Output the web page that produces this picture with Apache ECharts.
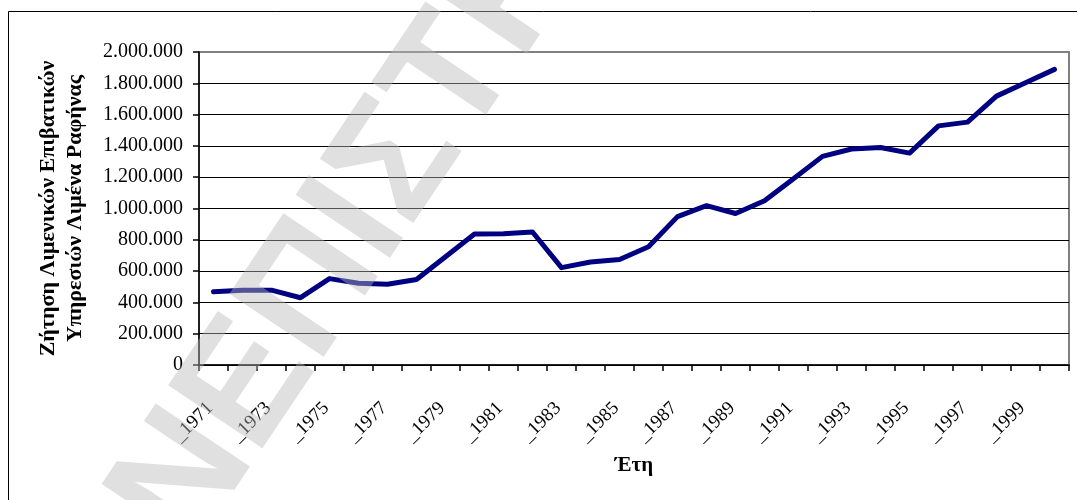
<!DOCTYPE html>
<html>
<head>
<meta charset="utf-8">
<script src="https://cdn.jsdelivr.net/npm/echarts@6/dist/echarts.min.js"></script>
<style>
  html, body { margin: 0; padding: 0; background: #ffffff; }
  #chart { width: 1077px; height: 500px; }
</style>
</head>
<body>
<div id="chart"></div>
<script>
// Years on the horizontal axis
const years = ['1971','1972','1973','1974','1975','1976','1977','1978','1979','1980',
               '1981','1982','1983','1984','1985','1986','1987','1988','1989','1990',
               '1991','1992','1993','1994','1995','1996','1997','1998','1999','2000'];

// Passenger port service demand, Rafina port
const demand = [468000, 478000, 478000, 430000, 552000, 522000, 516000, 546000, 692000, 837000,
                839000, 850000, 622000, 658000, 674000, 756000, 948000, 1018000, 968000, 1050000,
                1190000, 1333000, 1380000, 1390000, 1354000, 1528000, 1552000, 1718000, 1804000, 1889000];

// Value axis range
const yMin = 0;
const yMax = 2000000;
const yStep = 200000;

const yTitle = 'Ζήτηση Λιμενικών Επιβατικών\nΥπηρεσιών Λιμένα Ραφήνας';
const xTitle = 'Έτη';
const stamp = 'ΝΕΠΙΣΤΗΜΙΟ';

const serif = '"Liberation Serif", "Times New Roman", serif';

function dotted(v) {
  return String(v).replace(/\B(?=(\d{3})+(?!\d))/g, '.');
}

// gridlines black, the top one belongs to the grey plot frame
const splitColors = [];
for (let v = yMin; v <= yMax; v += yStep) splitColors.push(v === yMax ? '#808080' : '#000000');

const chart = echarts.init(document.getElementById('chart'), null, { renderer: 'canvas' });

chart.setOption({
  backgroundColor: '#ffffff',
  animation: false,
  grid: {
    left: 199, right: 8, top: 52, bottom: 135,
    show: true,
    borderColor: '#808080',
    borderWidth: 2,
    backgroundColor: 'transparent'
  },
  xAxis: {
    type: 'category',
    data: years,
    boundaryGap: true,
    name: xTitle,
    nameLocation: 'middle',
    nameGap: 90,
    nameTextStyle: { fontFamily: serif, fontSize: 21, fontWeight: 'bold', color: '#000' },
    axisLine: { lineStyle: { color: '#000', width: 1.5 } },
    axisTick: { show: true, interval: 0, length: 6, lineStyle: { color: '#000', width: 1.5 } },
    axisLabel: {
      interval: 1,
      rotate: 45,
      margin: 37,
      fontFamily: serif,
      fontSize: 19,
      color: '#000',
      // a no-break space keeps the year just left of its category centre
      formatter: y => '_' + y + '\u00a0'
    },
    splitLine: { show: false }
  },
  yAxis: {
    type: 'value',
    min: yMin,
    max: yMax,
    interval: yStep,
    name: yTitle,
    nameLocation: 'middle',
    nameRotate: 90,
    nameGap: 110,
    nameTextStyle: { fontFamily: serif, fontSize: 22, fontWeight: 'bold', color: '#000', lineHeight: 27, align: 'center' },
    axisLine: { show: true, lineStyle: { color: '#000', width: 1.5 } },
    axisTick: { show: true, length: 6, lineStyle: { color: '#000', width: 1.5 } },
    axisLabel: {
      margin: 16,
      fontFamily: serif,
      fontSize: 20,
      color: '#000',
      formatter: v => dotted(v)
    },
    splitLine: { show: true, lineStyle: { color: splitColors, width: 1 } }
  },
  series: [{
    type: 'line',
    data: demand,
    showSymbol: false,
    symbol: 'none',
    smooth: false,
    lineStyle: { color: '#000080', width: 5, join: 'round', cap: 'round' },
    z: 3
  }],
  graphic: [
    {
      // outer chart frame
      type: 'rect',
      silent: true,
      shape: { x: 8.5, y: 11.5, width: 1200, height: 700 },
      style: { fill: 'none', stroke: '#000', lineWidth: 1 },
      z: 1
    },
    {
      // translucent stamp across the chart
      type: 'text',
      silent: true,
      x: 152,
      y: 531,
      rotation: 0.98,
      z: 100,
      style: {
        text: stamp,
        font: 'bold 165px "Liberation Sans", Arial, sans-serif',
        fill: 'rgba(184,184,184,0.44)',
        align: 'left',
        verticalAlign: 'middle'
      }
    }
  ]
});
</script>
</body>
</html>
